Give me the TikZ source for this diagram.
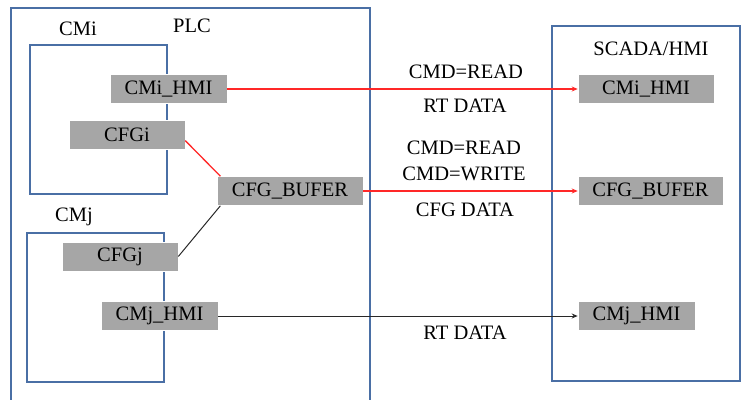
\documentclass[tikz,border=0pt]{standalone}
\usepackage{fontspec}
\setmainfont{Liberation Serif}
\usetikzlibrary{arrows.meta}
\definecolor{frameblue}{RGB}{74,111,165}
\definecolor{boxgray}{RGB}{166,166,166}
\definecolor{linkred}{RGB}{255,40,40}
\definecolor{linkdark}{RGB}{40,40,40}
\tikzset{
  frame/.style={draw=frameblue,line width=1.8pt},
  block/.style={fill=boxgray,draw=white,line width=0.6pt,inner sep=0pt,
    minimum height=29pt,font=\fontsize{20.5}{24}\selectfont},
  lbl/.style={inner sep=0pt,font=\fontsize{20.5}{24}\selectfont},
  redlink/.style={draw=linkred,line width=1.3pt},
  darklink/.style={draw=linkdark,line width=1pt},
  tip/.style={-{Stealth[length=6pt,width=5pt]}}
}
\begin{document}
\begin{tikzpicture}[x=1pt,y=-1pt]
\useasboundingbox (0,0) rectangle (741,399);
% outer containers
\draw[frame] (11,405) |- (370,8) -- (370,405);
\draw[frame] (552,26) rectangle (740,381);
% module frames
\draw[frame] (30,45) rectangle (167,194);
\draw[frame] (27,233) rectangle (164,382);
% captions
\node[lbl] (plc) at (192,26) {PLC};
\node[lbl] (cmi) at (78,29) {CMi};
\node[lbl] (cmj) at (74,217) {CMj};
\node[lbl] (scada) at (651,49) {SCADA/HMI};
% PLC side blocks
\node[block,minimum width=117pt] (cmihmi) at (168.5,89) {CMi\_HMI};
\node[block,minimum width=116pt] (cfgi) at (127,134.5) {CFGi};
\node[block,minimum width=146pt] (buf) at (290,191) {CFG\_BUFER};
\node[block,minimum width=116pt] (cfgj) at (120,256.5) {CFGj};
\node[block,minimum width=117pt] (cmjhmi) at (159.5,316) {CMj\_HMI};
% SCADA side blocks
\node[block,minimum width=136pt] (cmihmiS) at (646,89) {CMi\_HMI};
\node[block,minimum width=145pt] (bufS) at (650.5,191) {CFG\_BUFER};
\node[block,minimum width=117pt] (cmjhmiS) at (636.5,316) {CMj\_HMI};
% links
\draw[redlink,tip] (cmihmi.east) -- (cmihmiS.west);
\draw[redlink,tip] (buf.east) -- (bufS.west);
\draw[darklink,tip] (cmjhmi.east) -- (cmjhmiS.west);
\draw[redlink] (cfgi.-6) -- (buf.168);
\draw[darklink] (cfgj.east) -- (buf.192);
% link captions
\node[lbl] (t1) at (466,72) {CMD=READ};
\node[lbl] (t2) at (465,106) {RT DATA};
\node[lbl] (t3) at (464,148) {CMD=READ};
\node[lbl] (t4) at (464,174) {CMD=WRITE};
\node[lbl] (t5) at (465,210) {CFG DATA};
\node[lbl] (t6) at (465,333) {RT DATA};
\end{tikzpicture}
\end{document}
